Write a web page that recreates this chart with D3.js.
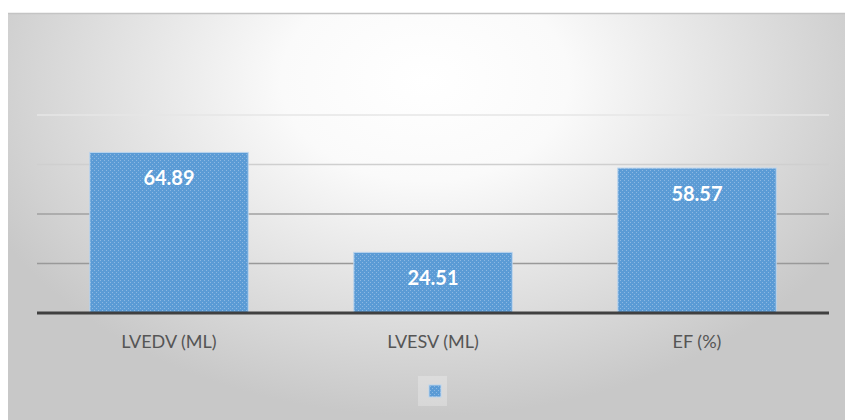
<!DOCTYPE html>
<html>
<head>
<meta charset="utf-8">
<script src="https://cdn.jsdelivr.net/npm/d3@7"></script>
<style>
  body { margin: 0; background: #fff; }
  text { font-family: Lato, "Open Sans", sans-serif; }
</style>
</head>
<body>
<div id="chart"></div>
<script>
// chart values
var categories = ["LVEDV (ML)", "LVESV (ML)", "EF (%)"];
var values = [64.89, 24.51, 58.57];
var yTicks = [0, 20, 40, 60, 80];

var W = 845, H = 420;
var box = {x: 8, y: 13, w: W - 8, h: H - 13};
var margin = {top: 115, left: 37, right: 16, bottom: 107};

var svg = d3.select("#chart").append("svg")
  .attr("width", W)
  .attr("height", H);

var defs = svg.append("defs");

// background gradient, white near top centre, grey at the edges
var rg = defs.append("radialGradient")
  .attr("id", "bg")
  .attr("gradientUnits", "userSpaceOnUse")
  .attr("cx", 425).attr("cy", 80)
  .attr("r", 480)
  .attr("gradientTransform", "translate(425,80) scale(1,0.7) translate(-425,-80)");
rg.append("stop").attr("offset", "0%").attr("stop-color", "#ffffff");
rg.append("stop").attr("offset", "30%").attr("stop-color", "#fafafa");
rg.append("stop").attr("offset", "100%").attr("stop-color", "#c8c8c8");

// dotted fill of the bars
var pat = defs.append("pattern")
  .attr("id", "dots")
  .attr("patternUnits", "userSpaceOnUse")
  .attr("width", 4).attr("height", 4);
pat.append("rect").attr("width", 4).attr("height", 4).attr("fill", "#5b9bd5");
pat.append("rect").attr("x", 0).attr("y", 0).attr("width", 1).attr("height", 1).attr("fill", "#8cb8e2");
pat.append("rect").attr("x", 2).attr("y", 2).attr("width", 1).attr("height", 1).attr("fill", "#8cb8e2");

svg.append("rect")
  .attr("x", box.x).attr("y", box.y)
  .attr("width", box.w).attr("height", box.h)
  .attr("fill", "url(#bg)");
svg.append("line")
  .attr("x1", box.x).attr("x2", W)
  .attr("y1", box.y + 0.5).attr("y2", box.y + 0.5)
  .attr("stroke", "#c4c4c4").attr("stroke-width", 1.5);

var x = d3.scaleBand()
  .domain(categories)
  .range([margin.left, W - margin.right])
  .paddingInner(0.4)
  .paddingOuter(0.2);

var y = d3.scaleLinear()
  .domain([0, 80])
  .range([H - margin.bottom, margin.top]);

// gridlines, fading toward the top
var gridColor = d3.scaleLinear().domain([20, 40, 60, 80]).range(["#999999", "#a0a0a0", "#cfcfcf", "#e6e6e6"]);
svg.append("g")
  .selectAll("line")
  .data(yTicks.filter(function(d) { return d > 0; }))
  .enter().append("line")
    .attr("x1", margin.left).attr("x2", W - margin.right)
    .attr("y1", function(d) { return y(d); })
    .attr("y2", function(d) { return y(d); })
    .attr("stroke", function(d) { return gridColor(d); })
    .attr("stroke-width", 1.3);

var bars = svg.append("g")
  .selectAll("g")
  .data(values)
  .enter().append("g");

bars.append("rect")
  .attr("x", function(d, i) { return x(categories[i]); })
  .attr("y", function(d) { return y(d); })
  .attr("width", x.bandwidth())
  .attr("height", function(d) { return y(0) - y(d); })
  .attr("fill", "url(#dots)")
  .attr("stroke", "#bcd5ee")
  .attr("stroke-width", 1);

bars.append("text")
  .attr("x", function(d, i) { return x(categories[i]) + x.bandwidth() / 2; })
  .attr("y", function(d) { return y(d) + 26; })
  .attr("dy", "0.35em")
  .attr("text-anchor", "middle")
  .attr("fill", "#fff")
  .style("font-size", "20px")
  .style("font-weight", "bold")
  .text(function(d) { return d.toFixed(2); });

// baseline
svg.append("line")
  .attr("x1", margin.left).attr("x2", W - margin.right)
  .attr("y1", y(0)).attr("y2", y(0))
  .attr("stroke", "#404040").attr("stroke-width", 3);

// category labels
var xAxis = svg.append("g")
  .attr("transform", "translate(0," + y(0) + ")")
  .call(d3.axisBottom(x).tickSize(0).tickPadding(22));
xAxis.select(".domain").remove();
xAxis.selectAll("text")
  .attr("fill", "#555555")
  .style("font-size", "18px")
  .style("font-family", "Lato, 'Open Sans', sans-serif");

// legend marker with no label
svg.append("rect")
  .attr("x", 418).attr("y", 376)
  .attr("width", 29).attr("height", 30)
  .attr("fill", "#fff").attr("opacity", 0.25);
svg.append("rect")
  .attr("x", 429).attr("y", 385)
  .attr("width", 12).attr("height", 12)
  .attr("fill", "url(#dots)")
  .attr("stroke", "#bcd5ee");
</script>
</body>
</html>
